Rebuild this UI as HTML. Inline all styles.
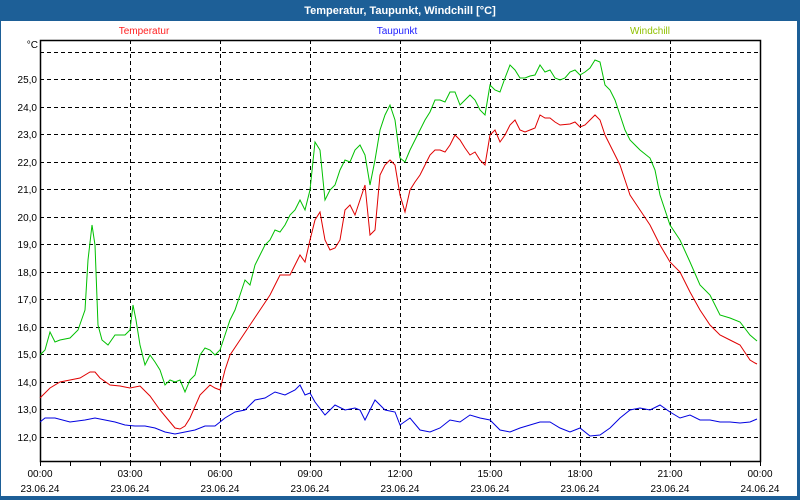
<!DOCTYPE html>
<html><head><meta charset="utf-8"><style>
html,body{margin:0;padding:0;background:#fff}
svg{display:block;font-family:"Liberation Sans","DejaVu Sans",sans-serif}
</style></head><body>
<svg width="800" height="500" viewBox="0 0 800 500" xmlns="http://www.w3.org/2000/svg">
<rect x="0" y="0" width="800" height="500" fill="#1d5f97"/>
<rect x="1" y="21" width="796" height="475" fill="#fff"/>
<text x="400" y="14" font-size="11" font-weight="bold" fill="#fff" text-anchor="middle">Temperatur, Taupunkt, Windchill [°C]</text>
<text x="144" y="34" font-size="10" fill="#ff2020" text-anchor="middle">Temperatur</text>
<text x="397" y="34" font-size="10" fill="#2020ff" text-anchor="middle">Taupunkt</text>
<text x="650" y="34" font-size="10" fill="#90c000" text-anchor="middle">Windchill</text>
<text x="38" y="48" font-size="10" fill="#000" text-anchor="end">°C</text>
<g stroke="#000" stroke-width="1" stroke-dasharray="4,3" fill="none">
<path d="M40 52.5H760M40 79.5H760M40 107.5H760M40 134.5H760M40 162.5H760M40 189.5H760M40 217.5H760M40 244.5H760M40 272.5H760M40 299.5H760M40 327.5H760M40 354.5H760M40 382.5H760M40 409.5H760M40 437.5H760"/>
<path d="M130.5 40V461M220.5 40V461M310.5 40V461M400.5 40V461M490.5 40V461M580.5 40V461M670.5 40V461"/>
</g>
<rect x="40.5" y="40.5" width="720" height="421" fill="none" stroke="#000" stroke-width="1.5"/>
<g stroke="#000" stroke-width="1">
<path d="M40.5 461V466M70.5 461V466M100.5 461V466M130.5 461V466M160.5 461V466M190.5 461V466M220.5 461V466M250.5 461V466M280.5 461V466M310.5 461V466M340.5 461V466M370.5 461V466M400.5 461V466M430.5 461V466M460.5 461V466M490.5 461V466M520.5 461V466M550.5 461V466M580.5 461V466M610.5 461V466M640.5 461V466M670.5 461V466M700.5 461V466M730.5 461V466M760.5 461V466"/>
</g>
<g font-size="10" fill="#000" text-anchor="end">
<text x="37" y="83">25,0</text><text x="37" y="111">24,0</text><text x="37" y="138">23,0</text><text x="37" y="166">22,0</text><text x="37" y="193">21,0</text><text x="37" y="221">20,0</text><text x="37" y="248">19,0</text><text x="37" y="276">18,0</text><text x="37" y="303">17,0</text><text x="37" y="331">16,0</text><text x="37" y="358">15,0</text><text x="37" y="386">14,0</text><text x="37" y="413">13,0</text><text x="37" y="441">12,0</text>
</g>
<g font-size="10" fill="#000" text-anchor="middle">
<text x="40" y="477">00:00</text><text x="40" y="492">23.06.24</text>
<text x="130" y="477">03:00</text><text x="130" y="492">23.06.24</text>
<text x="220" y="477">06:00</text><text x="220" y="492">23.06.24</text>
<text x="310" y="477">09:00</text><text x="310" y="492">23.06.24</text>
<text x="400" y="477">12:00</text><text x="400" y="492">23.06.24</text>
<text x="490" y="477">15:00</text><text x="490" y="492">23.06.24</text>
<text x="580" y="477">18:00</text><text x="580" y="492">23.06.24</text>
<text x="670" y="477">21:00</text><text x="670" y="492">23.06.24</text>
<text x="760" y="477">00:00</text><text x="760" y="492">24.06.24</text>
</g>
<polyline fill="none" stroke="#00c000" stroke-width="1" points="40,355 45,350 50,332 55,342 60,340 70,338 78,330 85,310 88,260 92,225 95,245 98,325 102,340 108,345 115,335 125,335 130,330 133,305 136,320 140,345 145,365 150,355 155,362 160,370 165,385 170,380 175,382 180,380 185,392 190,380 195,375 200,355 205,348 210,350 215,355 220,350 225,335 230,320 235,310 240,295 245,280 250,285 255,265 260,255 265,245 270,240 275,230 280,232 285,225 290,215 295,210 300,200 305,210 310,190 315,142 320,150 325,200 330,190 335,185 340,170 345,160 350,162 355,150 360,145 365,155 370,185 375,160 380,130 385,115 390,105 395,120 400,158 405,162 410,150 415,140 420,130 425,120 430,112 435,100 440,100 445,102 450,92 455,92 460,105 465,100 470,95 475,100 480,110 485,115 490,85 495,90 500,92 505,78 510,65 515,70 520,78 525,78 530,76 535,75 540,65 545,72 550,70 555,78 560,80 565,78 570,72 575,70 580,75 585,72 590,68 595,60 600,62 605,85 610,90 615,100 620,115 625,130 630,140 640,150 650,158 655,170 660,195 670,225 680,240 690,262 700,285 710,295 720,315 730,318 740,322 750,335 757,341"/>
<polyline fill="none" stroke="#e00000" stroke-width="1" points="40,398 50,388 60,382 70,380 80,378 90,372 95,372 100,378 110,385 120,386 130,388 140,386 150,396 160,410 170,422 175,428 180,429 185,426 190,418 200,395 210,385 215,388 220,390 225,370 230,355 240,340 250,325 260,310 270,295 280,275 290,275 295,265 300,255 305,262 310,240 315,220 320,212 325,240 330,250 335,248 340,240 345,210 350,205 355,215 360,200 365,185 370,235 375,230 380,175 385,165 390,160 395,165 400,195 405,212 410,190 415,182 420,175 425,165 430,155 435,150 440,150 445,152 450,145 455,135 460,140 465,148 470,155 475,152 480,160 485,165 490,135 495,130 500,142 505,135 510,125 515,120 520,130 525,132 530,130 535,128 540,115 545,118 550,118 555,122 560,125 570,124 575,122 580,127 585,125 590,120 595,115 600,120 605,135 610,145 615,155 620,165 625,180 630,195 640,210 650,225 660,245 670,262 680,272 690,292 700,310 710,325 720,335 730,340 740,345 750,360 755,363 757,364"/>
<polyline fill="none" stroke="#0000e0" stroke-width="1" points="40,422 45,418 55,418 70,422 85,420 95,418 105,420 115,422 125,425 135,426 145,426 155,428 165,432 175,434 185,432 195,430 205,426 215,426 225,418 235,412 245,410 255,400 265,398 275,392 285,395 295,390 300,385 305,395 310,393 315,402 325,415 335,405 345,410 355,408 360,410 365,420 375,400 385,410 395,412 400,425 410,418 420,430 430,432 440,428 450,420 460,422 470,415 480,418 490,420 500,430 510,432 520,428 530,425 540,422 550,422 560,428 570,432 580,428 590,436 600,435 610,428 620,418 630,410 640,408 650,410 660,405 670,412 680,418 690,415 700,420 710,420 720,422 730,422 740,423 750,422 757,419"/>
</svg>
</body></html>
